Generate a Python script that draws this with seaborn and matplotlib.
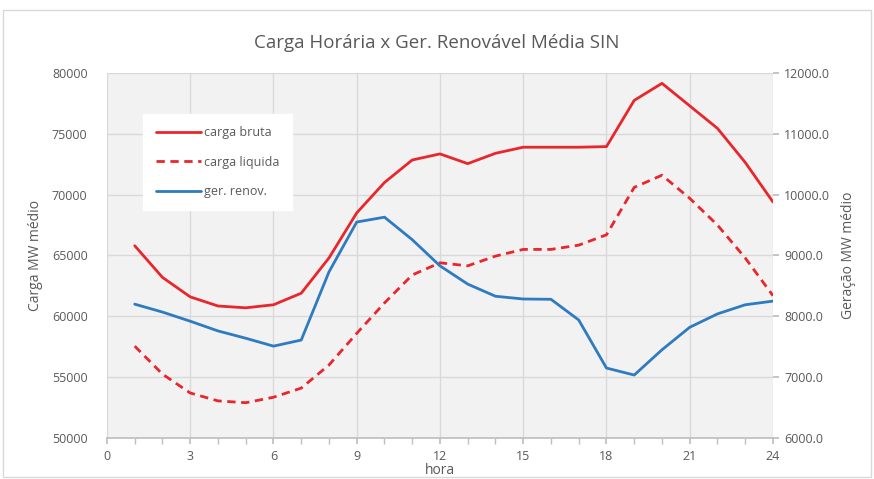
import numpy as np
import pandas as pd
import matplotlib
matplotlib.use("Agg")
import matplotlib.pyplot as plt
from matplotlib.ticker import MultipleLocator, FuncFormatter
import seaborn as sns

# dados (média horária SIN)
horas = list(range(1, 25))
carga_bruta = [65800, 63200, 61600, 60850, 60700, 60950, 61900, 64800,
               68500, 71000, 72850, 73350, 72550, 73400, 73900, 73900,
               73900, 73950, 77750, 79150, 77300, 75450, 72650, 69400]
carga_liquida = [57550, 55250, 53700, 53050, 52900, 53350, 54100, 56000,
                 58600, 61100, 63400, 64400, 64150, 64950, 65500, 65500,
                 65850, 66700, 70600, 71600, 69700, 67500, 64800, 61700]
ger_renov = [8200, 8070, 7920, 7760, 7640, 7510, 7610, 8730,
             9550, 9630, 9260, 8830, 8530, 8330, 8285, 8280,
             7940, 7150, 7035, 7450, 7820, 8040, 8190, 8250]

df = pd.DataFrame({"hora": horas, "bruta": carga_bruta,
                   "liquida": carga_liquida, "renov": ger_renov})

sns.set_theme(style="white")
plt.rcParams['font.family'] = ['Open Sans', 'DejaVu Sans']

vermelho = "#e8262b"
azul = "#2e7bbf"
cinza = "#595959"

fig = plt.figure(figsize=(8.74, 4.79), dpi=100)
ax = fig.add_axes([0.1224, 0.0856, 0.762, 0.762])
ax.set_facecolor("#f2f2f2")

sns.lineplot(data=df, x="hora", y="bruta", ax=ax, color=vermelho, lw=2,
             label="carga bruta", legend=False)
sns.lineplot(data=df, x="hora", y="liquida", ax=ax, color=vermelho, lw=2,
             linestyle=(0, (3, 2)), label="carga liquida", legend=False)

ax2 = ax.twinx()
sns.lineplot(data=df, x="hora", y="renov", ax=ax2, color=azul, lw=2,
             label="ger. renov.", legend=False)

ax.set_xlim(0, 24)
ax.set_ylim(50000, 80000)
ax2.set_ylim(6000, 12000)
ax.xaxis.set_major_locator(MultipleLocator(3))
ax.xaxis.set_minor_locator(MultipleLocator(1))
ax.yaxis.set_major_locator(MultipleLocator(5000))
ax2.yaxis.set_major_locator(MultipleLocator(1000))
ax2.yaxis.set_major_formatter(FuncFormatter(lambda v, p: f"{v:.1f}"))

ax.grid(True, which="major", color="#d9d9d9", lw=1)
for a in (ax, ax2):
    for s in a.spines.values():
        s.set_visible(False)
ax.spines["bottom"].set_visible(True)
ax.spines["bottom"].set_color("#bfbfbf")

ax.tick_params(axis="x", which="both", bottom=True, direction="out",
               color="#bfbfbf", length=4, labelsize=9, labelcolor=cinza, pad=5)
ax.tick_params(axis="y", left=False, labelsize=9, labelcolor=cinza, pad=8)
ax2.tick_params(axis="y", right=True, length=4, color="#bfbfbf",
                labelsize=9, labelcolor=cinza, pad=4)

ax.set_xlabel("hora", color=cinza, fontsize=10, labelpad=0)
ax.set_ylabel("Carga MW médio", color=cinza, fontsize=10, labelpad=6)
ax2.set_ylabel("Geração MW médio", color=cinza, fontsize=10, labelpad=8)

fig.suptitle("Carga Horária x Ger. Renovável Média SIN", y=0.93,
             fontsize=13.5, color=cinza)

h1, l1 = ax.get_legend_handles_labels()
h2, l2 = ax2.get_legend_handles_labels()
leg = ax.legend(h1 + h2, l1 + l2, loc="upper left",
                bbox_to_anchor=(0.045, 0.905), frameon=True, fancybox=False,
                framealpha=1, edgecolor="white", facecolor="white",
                fontsize=9, labelspacing=1.3, handlelength=3.6,
                borderpad=1.0, handletextpad=0.3)
for t in leg.get_texts():
    t.set_color(cinza)
leg.set_zorder(5)

fig.patches.append(plt.Rectangle((0.003, 0.005), 0.994, 0.975,
                                 transform=fig.transFigure, fill=False,
                                 edgecolor="#d9d9d9", lw=1))

fig.savefig("out.png", dpi=100)
